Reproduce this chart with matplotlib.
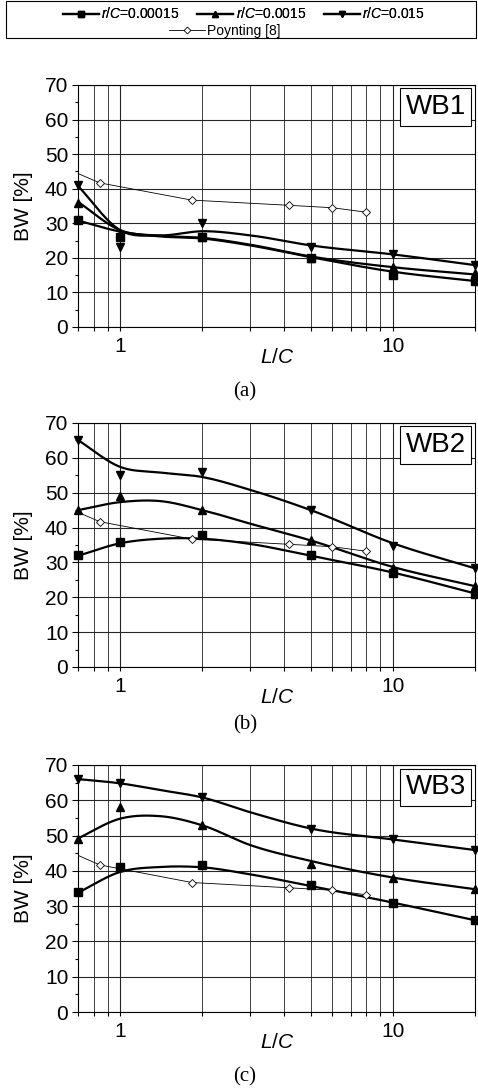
import numpy as np
import matplotlib
matplotlib.use("Agg")
import matplotlib.pyplot as plt
from matplotlib.lines import Line2D
from matplotlib.patches import Rectangle
from matplotlib.ticker import MultipleLocator, FixedLocator, FixedFormatter, NullFormatter

plt.rcParams['font.family'] = ['Liberation Sans', 'DejaVu Sans']
plt.rcParams['mathtext.fontset'] = 'custom'
plt.rcParams['mathtext.it'] = 'Liberation Sans:italic'
plt.rcParams['mathtext.rm'] = 'Liberation Sans'

# L/C values of the computed points
lc = [0.7, 1, 2, 5, 10, 20]

# computed BW points, r/C = 0.00015 / 0.0015 / 0.015
wb1_a = [31, 26, 26, 20, 15, 13.3]
wb1_b = [36, 27, 26, 20, 17.3, 15.5]
wb1_c = [41, 23, 30, 23, 21, 17.8]
wb2_a = [32, 36, 38, 32, 27, 21]
wb2_b = [45, 49, 45, 36.3, 28.3, 23.2]
wb2_c = [65, 55, 56, 45, 34.8, 28.3]
wb3_a = [34, 41, 41.7, 36, 31, 26]
wb3_b = [49, 58, 53, 42, 38, 35]
wb3_c = [66, 65, 61, 52, 49, 46]

# fitted trend curves
fit_x = [0.7, 1, 1.4, 2, 3, 5, 10, 20]
fit1_a = [30.8, 27.6, 26.2, 25.6, 23.6, 20.2, 16.0, 13.3]
fit1_b = [36.2, 28.0, 26.4, 25.8, 23.8, 20.4, 17.3, 15.2]
fit1_c = [40.8, 28.0, 26.5, 27.7, 26.5, 23.6, 21.0, 17.9]
fit2_a = [31.9, 35.5, 36.8, 36.8, 35.3, 31.9, 27.1, 21.1]
fit2_b = [45.0, 47.3, 47.6, 45.0, 41.1, 36.3, 28.7, 23.2]
fit2_c = [65.1, 57.4, 55.8, 54.5, 50.8, 45.0, 35.5, 28.3]
fit3_a = [33.8, 39.7, 41.1, 41.0, 39.0, 35.7, 31.0, 26.0]
fit3_b = [49.2, 54.8, 55.5, 52.9, 47.3, 42.8, 38.1, 34.8]
fit3_c = [66.0, 64.8, 62.9, 60.8, 56.6, 52.0, 48.9, 45.9]

# Poynting [8]
poy_x = [0.7, 0.84, 1.83, 4.16, 6.0, 8.0]
poy_y = [44.4, 41.7, 36.7, 35.2, 34.5, 33.2]

panels = [
    ("WB1", "(a)", [wb1_a, wb1_b, wb1_c], [fit1_a, fit1_b, fit1_c]),
    ("WB2", "(b)", [wb2_a, wb2_b, wb2_c], [fit2_a, fit2_b, fit2_c]),
    ("WB3", "(c)", [wb3_a, wb3_b, wb3_c], [fit3_a, fit3_b, fit3_c]),
]
markers = ["s", "^", "v"]
labels = [r"$r$/$C$=0.00015", r"$r$/$C$=0.0015", r"$r$/$C$=0.015"]


def smooth(x, y, n=40):
    # cubic hermite through the points, in log x
    t = np.log10(x)
    y = np.asarray(y, float)
    h = np.diff(t)
    d = np.diff(y) / h
    m = np.empty_like(y)
    m[0], m[-1] = d[0], d[-1]
    m[1:-1] = (d[:-1] * h[1:] + d[1:] * h[:-1]) / (h[:-1] + h[1:])
    tt, yy = [], []
    for i in range(len(h)):
        s = np.linspace(0, 1, n)
        h00 = 2 * s**3 - 3 * s**2 + 1
        h10 = s**3 - 2 * s**2 + s
        h01 = -2 * s**3 + 3 * s**2
        h11 = s**3 - s**2
        tt.append(t[i] + s * h[i])
        yy.append(h00 * y[i] + h10 * h[i] * m[i] + h01 * y[i + 1] + h11 * h[i] * m[i + 1])
    return 10 ** np.concatenate(tt), np.concatenate(yy)


W, H = 478, 1088
fig = plt.figure(figsize=(W / 100, H / 100), dpi=100)

boxes = [(85, 327), (423, 667), (765, 1012)]
left, right = 78, 475
caption_y = [392, 725, 1077]

for (name, cap, series, fits), (top, bot), cy in zip(panels, boxes, caption_y):
    ax = fig.add_axes([left / W, 1 - bot / H, (right - left) / W, (bot - top) / H])
    ax.set_xscale("log")
    for y, f, m in zip(series, fits, markers):
        sx, sy = smooth(fit_x, f)
        ax.plot(sx, sy, color="black", lw=1.6, zorder=3)
        ax.plot(lc, y, ls="none", marker=m, color="black", ms=5.2, zorder=4, clip_on=False)
    ax.plot(poy_x, poy_y, color="black", lw=0.6, marker="D", ms=4, mfc="white",
            mec="black", mew=0.6, markevery=list(range(1, len(poy_x))), zorder=3)

    ax.set_xlim(0.7, 20)
    ax.set_ylim(0, 70)
    ax.yaxis.set_major_locator(MultipleLocator(10))
    ax.yaxis.set_minor_locator(MultipleLocator(5))
    ax.xaxis.set_major_locator(FixedLocator([1, 10]))
    ax.xaxis.set_major_formatter(FixedFormatter(["1", "10"]))
    ax.xaxis.set_minor_locator(FixedLocator([0.7, 0.8, 0.9, 2, 3, 4, 5, 6, 7, 8, 9, 20]))
    ax.xaxis.set_minor_formatter(NullFormatter())
    ax.grid(which="major", color="0.15", lw=0.8)
    ax.grid(which="minor", axis="x", color="0.25", lw=0.7)
    ax.tick_params(which="both", direction="out", labelsize=15, width=0.8)
    ax.tick_params(axis="x", which="both", length=3, pad=4)
    ax.tick_params(axis="y", which="major", length=4, pad=3)
    ax.tick_params(axis="y", which="minor", length=2.5)
    for s in ax.spines.values():
        s.set_linewidth(0.8)
    ax.set_ylabel("BW [%]", fontsize=15)
    ax.yaxis.set_label_coords(-0.113, 0.5)
    ax.set_xlabel(r"$L$/$C$", fontsize=15)
    ax.xaxis.set_label_coords(0.501, -0.085)
    ax.text(0.977, 0.963, name, transform=ax.transAxes, ha="right", va="top",
            fontsize=20, zorder=6,
            bbox=dict(boxstyle="square,pad=0.2", fc="white", ec="black", lw=0.8))
    fig.text(245 / W, 1 - cy / H, cap, ha="center", va="center", fontsize=15,
             family="Liberation Serif")

# legend
handles = [Line2D([], [], color="black", lw=1.6, marker=m, ms=4.5) for m in markers]
leg1 = fig.legend(handles, labels, ncol=3, loc="center", frameon=False,
                  bbox_to_anchor=(244 / W, 1 - 14 / H), fontsize=10, numpoints=1,
                  handlelength=2.6, handletextpad=0.15, columnspacing=1.3,
                  borderpad=0, borderaxespad=0)
fig.add_artist(leg1)
ph = Line2D([], [], color="black", lw=0.6, marker="D", ms=3.5, mfc="white", mew=0.6)
fig.legend([ph], ["Poynting [8]"], loc="center", frameon=False,
           bbox_to_anchor=(225 / W, 1 - 31 / H), fontsize=10, numpoints=1,
           handlelength=2.6, handletextpad=0.15, borderpad=0, borderaxespad=0)
fig.add_artist(Rectangle((6 / W, 1 - 38 / H), 470 / W, 37 / H, transform=fig.transFigure,
                         fill=False, ec="black", lw=0.8))

fig.savefig("out.png", dpi=100)
